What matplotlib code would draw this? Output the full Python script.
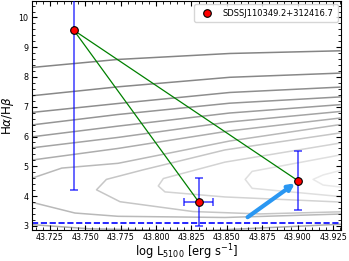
import matplotlib
matplotlib.use("Agg")
import matplotlib.pyplot as plt
from matplotlib.ticker import AutoMinorLocator, MultipleLocator

# ---- data ----
obs_logL = [43.742, 43.830, 43.900]
obs_ratio = [9.57, 3.81, 4.52]
obs_yerr = [5.37, 0.81, 1.00]
obs_xerr = [0.0, 0.010, 0.0]
label_name = "SDSSJ110349.2+312416.7"
case_b = 3.1
arrow_start = (43.8646, 3.29)
arrow_end = (43.898, 4.43)

# background contour lines (open upper arms, common x positions)
upper_x = [43.7125, 43.7732, 43.852, 43.9297]
upper_y1 = [8.32, 8.59, 8.79, 8.88]
upper_y2 = [7.37, 7.67, 7.99, 8.13]
upper_y3 = [6.81, 7.11, 7.48, 7.66]
upper_y4 = [6.39, 6.74, 7.12, 7.33]
upper_y5 = [5.99, 6.35, 6.79, 7.07]
upper_y6 = [5.62, 5.97, 6.49, 6.84]
upper_y7 = [5.21, 5.60, 6.19, 6.62]
l8_x = [43.7125, 43.7335, 43.7732, 43.852, 43.9297]
l8_y = [4.60, 4.94, 5.10, 5.85, 6.40]
# closed-tip contours
t1_x = [43.9297, 43.8486, 43.7908, 43.765, 43.758, 43.7746, 43.826, 43.8733, 43.9297]
t1_y = [6.12, 5.55, 4.88, 4.56, 4.21, 3.81, 3.48, 3.40, 3.47]
t2_x = [43.9297, 43.8486, 43.8052, 43.8016, 43.8063, 43.8486, 43.9297]
t2_y = [5.78, 5.14, 4.59, 4.34, 4.14, 3.97, 3.80]
t3_x = [43.9332, 43.8678, 43.8629, 43.8678, 43.9332]
t3_y = [5.41, 4.83, 4.56, 4.26, 3.97]
t4_x = [43.9367, 43.9179, 43.9108, 43.9179, 43.9367]
t4_y = [4.94, 4.71, 4.56, 4.37, 4.27]
lb1_x = [43.7125, 43.7428, 43.7732, 43.8486, 43.9332]
lb1_y = [3.79, 3.43, 3.32, 3.28, 3.40]
lb2_x = [43.707, 43.753, 43.8306, 43.933]
lb2_y = [3.06, 2.90, 2.83, 3.06]

plt.rcParams['font.family'] = ['DejaVu Sans']
fig = plt.figure(figsize=(3.49, 2.61), dpi=100)
ax = fig.add_axes([0.0917, 0.1188, 0.8854, 0.877])

lw_c = 1.1
upper_sets = [upper_y1, upper_y2, upper_y3, upper_y4, upper_y5, upper_y6, upper_y7]
upper_cols = ['#858585', '#888888', '#8e8e8e', '#959595', '#9c9c9c', '#a4a4a4', '#adadad']
for ys, c in zip(upper_sets, upper_cols):
    ax.plot(upper_x, ys, color=c, lw=lw_c, zorder=1)
ax.plot(l8_x, l8_y, color='#b9b9b9', lw=lw_c, zorder=1)
ax.plot(t1_x, t1_y, color='#c6c6c6', lw=lw_c, zorder=1)
ax.plot(t2_x, t2_y, color='#d3d3d3', lw=lw_c, zorder=1)
ax.plot(t3_x, t3_y, color='#dfdfdf', lw=lw_c, zorder=1)
ax.plot(t4_x, t4_y, color='#e9e9e9', lw=lw_c, zorder=1)
ax.plot(lb1_x, lb1_y, color='#b9b9b9', lw=lw_c, zorder=1)
ax.plot(lb2_x, lb2_y, color='#adadad', lw=lw_c, zorder=1)

# connecting lines
ax.plot([obs_logL[0], obs_logL[1]], [obs_ratio[0], obs_ratio[1]], color='green', lw=0.9, zorder=2)
ax.plot([obs_logL[0], obs_logL[2]], [obs_ratio[0], obs_ratio[2]], color='green', lw=0.9, zorder=2)

ax.axhline(case_b, color='blue', ls='--', lw=1.2, zorder=2)

ax.errorbar(obs_logL, obs_ratio, yerr=obs_yerr, xerr=obs_xerr, fmt='none',
            ecolor='blue', alpha=0.7, elinewidth=1.2, capsize=3, capthick=1.2, zorder=3)
ax.plot(obs_logL, obs_ratio, 'o', ms=5.5, mfc='red', mec='black', mew=0.8,
        ls='none', label=label_name, zorder=5)

ax.annotate('', xy=arrow_end, xytext=arrow_start,
            arrowprops=dict(arrowstyle='-|>', color='#2a97f2', lw=3, mutation_scale=9,
                            shrinkA=0, shrinkB=0), zorder=4)

ax.set_xlim(43.7125, 43.9305)
ax.set_ylim(2.86, 10.55)
ax.xaxis.set_major_locator(MultipleLocator(0.025))
ax.yaxis.set_major_locator(MultipleLocator(1))
ax.xaxis.set_minor_locator(AutoMinorLocator(5))
ax.yaxis.set_minor_locator(AutoMinorLocator(5))
ax.tick_params(which='both', direction='in', top=True, right=True, labelsize=5.8, pad=2.5)
ax.tick_params(which='major', length=3.5, width=0.8)
ax.tick_params(which='minor', length=2, width=0.6)
ax.xaxis.set_major_formatter(matplotlib.ticker.FormatStrFormatter('%.3f'))

ax.set_xlabel(r'log L$_{5100}$ [erg s$^{-1}$]', fontsize=8.3, labelpad=-0.3)
ax.set_ylabel(r'H$\alpha$/H$\beta$', fontsize=8.6, labelpad=1.5)

ax.legend(loc='upper right', fontsize=6, handletextpad=0.9, borderpad=0.5,
          borderaxespad=0.4, handlelength=2.0)

fig.savefig('out.png', dpi=100)
